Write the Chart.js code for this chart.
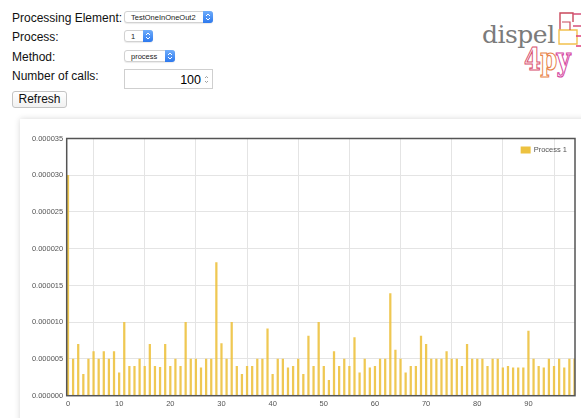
<!DOCTYPE html>
<html>
<head>
<meta charset="utf-8">
<script src="https://cdn.jsdelivr.net/npm/chart.js@4.4.1/dist/chart.umd.min.js"></script>
<style>
body { margin:0; width:581px; height:418px; overflow:hidden; background:#fff; font-family:"Liberation Sans", Arial, sans-serif; position:relative; }
.lbl { position:absolute; left:12px; font-size:12px; line-height:14px; color:#111; white-space:nowrap; }
.sel { position:absolute; left:124px; background:#fff; border:1px solid #d2d2d2; border-radius:3px; box-sizing:border-box; font-size:7.5px; color:#222; box-shadow:0 1px 1px rgba(0,0,0,0.08); }
.sel .t { position:absolute; left:6px; top:50%; transform:translateY(-50%); white-space:nowrap; }
.sel .arr { position:absolute; right:-1px; top:-1px; bottom:-1px; width:10px; background:linear-gradient(#6fadfb,#2d79ee); border-radius:0 3px 3px 0; }
.sel .arr svg { position:absolute; left:2px; top:50%; margin-top:-4px; }
#num { position:absolute; left:124px; top:69px; width:89px; height:20px; box-sizing:border-box; border:1px solid #cfcfcf; background:#fff; font-size:12.5px; }
#num .t { position:absolute; right:11px; top:3px; }
#num svg { position:absolute; right:3px; top:5px; }
#refresh { position:absolute; left:12px; top:91px; width:55px; height:17px; box-sizing:border-box; border:1px solid #c4c4c4; border-radius:3px; background:linear-gradient(#fff,#f1f1f1); font-size:12px; line-height:15px; text-align:center; color:#111; }
#logo1 { position:absolute; left:482px; top:22px; font-family:"DejaVu Serif", serif; font-size:25px; line-height:25px; color:#7b7b7b; letter-spacing:-0.5px; }
#logo2 { position:absolute; left:524px; top:43px; font-family:"DejaVu Serif", serif; font-weight:bold; font-size:32px; line-height:32px; color:transparent; -webkit-text-stroke:1.2px #d9506e; transform:scaleX(0.76); transform-origin:left top; letter-spacing:-1px; }
#logo2 .p { -webkit-text-stroke-color:#e8834a; }
#logo2 .y { -webkit-text-stroke-color:#d43f9e; }
#deco { position:absolute; left:550px; top:8px; }
#panel { position:absolute; left:20px; top:119px; width:600px; height:320px; background:#fff; box-shadow:0 0 6px rgba(0,0,0,0.16); }
#myChart { position:absolute; left:0; top:0; }
</style>
</head>
<body>
<div class="lbl" style="top:11px">Processing Element:</div>
<div class="lbl" style="top:30px">Process:</div>
<div class="lbl" style="top:50px">Method:</div>
<div class="lbl" style="top:69px">Number of calls:</div>

<div class="sel" style="top:11px;width:89px;height:12px"><span class="t">TestOneInOneOut2</span><div class="arr"><svg width="6" height="8"><path d="M1 3 L3 1 L5 3 M1 5 L3 7 L5 5" stroke="#fff" stroke-width="1" fill="none"/></svg></div></div>
<div class="sel" style="top:30px;width:29px;height:12px"><span class="t">1</span><div class="arr"><svg width="6" height="8"><path d="M1 3 L3 1 L5 3 M1 5 L3 7 L5 5" stroke="#fff" stroke-width="1" fill="none"/></svg></div></div>
<div class="sel" style="top:50px;width:51px;height:12px"><span class="t">process</span><div class="arr"><svg width="6" height="8"><path d="M1 3 L3 1 L5 3 M1 5 L3 7 L5 5" stroke="#fff" stroke-width="1" fill="none"/></svg></div></div>
<div id="num"><span class="t">100</span><svg width="5" height="9"><path d="M1 3 L2.5 1.5 L4 3 M1 6 L2.5 7.5 L4 6" stroke="#888" stroke-width="0.8" fill="none"/></svg></div>
<div id="refresh">Refresh</div>

<div id="logo1">dispel</div>
<div id="logo2">4<span class="p">p</span><span class="y">y</span></div>
<svg id="deco" width="31" height="40">
  <path d="M10 22 L10 5 L23 5 L23 14" stroke="#c9485b" stroke-width="1.4" fill="none"/>
  <path d="M23 6 L31 6 M23 18 L31 18" stroke="#d6507a" stroke-width="1.4" fill="none"/>
  <path d="M9 22 L27 22 L27 36 L9 36 Z" stroke="#f2c14e" stroke-width="1.4" fill="none"/>
  <path d="M12 14 L20 14 L20 22" stroke="#c9485b" stroke-width="1.2" fill="none"/>
  <path d="M26 28 L31 28 M26 38 L31 38" stroke="#e0407a" stroke-width="1.4" fill="none"/>
</svg>

<div id="panel"><canvas id="myChart" width="562" height="299"></canvas></div>

<script>
// call number for every bar
var calls = [0,1,2,3,4,5,6,7,8,9,10,11,12,13,14,15,16,17,18,19,
  20,21,22,23,24,25,26,27,28,29,30,31,32,33,34,35,36,37,38,39,
  40,41,42,43,44,45,46,47,48,49,50,51,52,53,54,55,56,57,58,59,
  60,61,62,63,64,65,66,67,68,69,70,71,72,73,74,75,76,77,78,79,
  80,81,82,83,84,85,86,87,88,89,90,91,92,93,94,95,96,97,98,99];

// time per call (seconds)
var process1 = [
  30e-6, 5e-6, 7e-6, 2.9e-6, 5e-6, 6e-6, 5e-6, 6e-6, 5e-6, 6e-6,
  3.1e-6, 10e-6, 4e-6, 4e-6, 5e-6, 4e-6, 7e-6, 4e-6, 3.85e-6, 7e-6,
  4e-6, 5e-6, 4e-6, 10e-6, 5e-6, 5e-6, 3.8e-6, 5e-6, 5e-6, 18.1e-6,
  7.1e-6, 5e-6, 10e-6, 4e-6, 2.9e-6, 4e-6, 4e-6, 5e-6, 5e-6, 9.1e-6,
  2.9e-6, 5e-6, 5e-6, 3.8e-6, 4e-6, 5e-6, 2.9e-6, 8.1e-6, 4e-6, 10e-6,
  4e-6, 2.1e-6, 6e-6, 4e-6, 5e-6, 4e-6, 7.9e-6, 3.1e-6, 5e-6, 3.8e-6,
  4e-6, 5e-6, 5e-6, 13.9e-6, 6.2e-6, 5e-6, 3.1e-6, 4e-6, 4e-6, 8.1e-6,
  7e-6, 5e-6, 5e-6, 5e-6, 6e-6, 5e-6, 5e-6, 4e-6, 7e-6, 5e-6,
  5e-6, 5e-6, 4e-6, 5e-6, 5e-6, 3.8e-6, 4e-6, 3.8e-6, 3.8e-6, 3.8e-6,
  8.8e-6, 5e-6, 4e-6, 3.8e-6, 5e-6, 4e-6, 5e-6, 3.8e-6, 5e-6, 5e-6
];

var xTicks = [0, 10, 20, 30, 40, 50, 60, 70, 80, 90];
var yTicks = [0, 0.000005, 0.00001, 0.000015, 0.00002, 0.000025, 0.00003, 0.000035];

window.onload = function() {
  init();
};

function init() {
  Chart.defaults.font.family = '"Liberation Sans", Arial, sans-serif';
  var points = calls.map(function(c, i) { return { x: c, y: process1[i] }; });

  // flot-like frame plus a legend inside the top right of the plot
  var frame = {
    id: 'frame',
    afterDraw: function(chart) {
      var ctx = chart.ctx, a = chart.chartArea;
      ctx.save();
      ctx.strokeStyle = '#545454';
      ctx.lineWidth = 1.5;
      ctx.strokeRect(a.left, a.top, a.right - a.left, a.bottom - a.top);
      var ds = chart.data.datasets[0];
      ctx.font = '7.5px "Liberation Sans", Arial, sans-serif';
      var tw = ctx.measureText(ds.label).width;
      var tx = a.right - 8 - tw, ty = a.top + 11.5;
      ctx.fillStyle = '#edc240';
      ctx.fillRect(tx - 13, ty - 3.5, 10, 7);
      ctx.fillStyle = '#545454';
      ctx.textBaseline = 'middle';
      ctx.fillText(ds.label, tx, ty);
      ctx.restore();
    }
  };

  var ctx = document.getElementById('myChart').getContext('2d');
  var chart = new Chart(ctx, {
    type: 'bar',
    data: {
      datasets: [{
        label: 'Process 1',
        data: points,
        backgroundColor: 'rgba(237, 194, 64, 0.9)',
        borderWidth: 0,
        barThickness: 1.6
      }]
    },
    options: {
      responsive: false,
      animation: false,
      layout: { padding: { top: 19.5, right: 7, left: 0, bottom: 0 } },
      scales: {
        x: {
          type: 'linear',
          min: -0.25,
          max: 99.1,
          offset: false,
          afterBuildTicks: function(s) { s.ticks = xTicks.map(function(v) { return { value: v }; }); },
          afterFit: function(s) { s.height = 22.3; },
          ticks: { font: { size: 7.5 }, color: '#545454', padding: 4, maxRotation: 0, autoSkip: false },
          grid: { color: '#e4e4e4', drawTicks: false },
          border: { display: false }
        },
        y: {
          min: 0,
          max: 0.000035,
          afterBuildTicks: function(s) { s.ticks = yTicks.map(function(v) { return { value: v }; }); },
          afterFit: function(s) { s.width = 46.7; },
          ticks: {
            font: { size: 7.5 }, color: '#545454', padding: 3.5,
            callback: function(v) { return v.toFixed(6); }
          },
          grid: { color: '#e4e4e4', drawTicks: false },
          border: { display: false }
        }
      },
      plugins: {
        legend: { display: false },
        tooltip: { enabled: false }
      }
    },
    plugins: [frame]
  });
}
</script>
</body>
</html>
